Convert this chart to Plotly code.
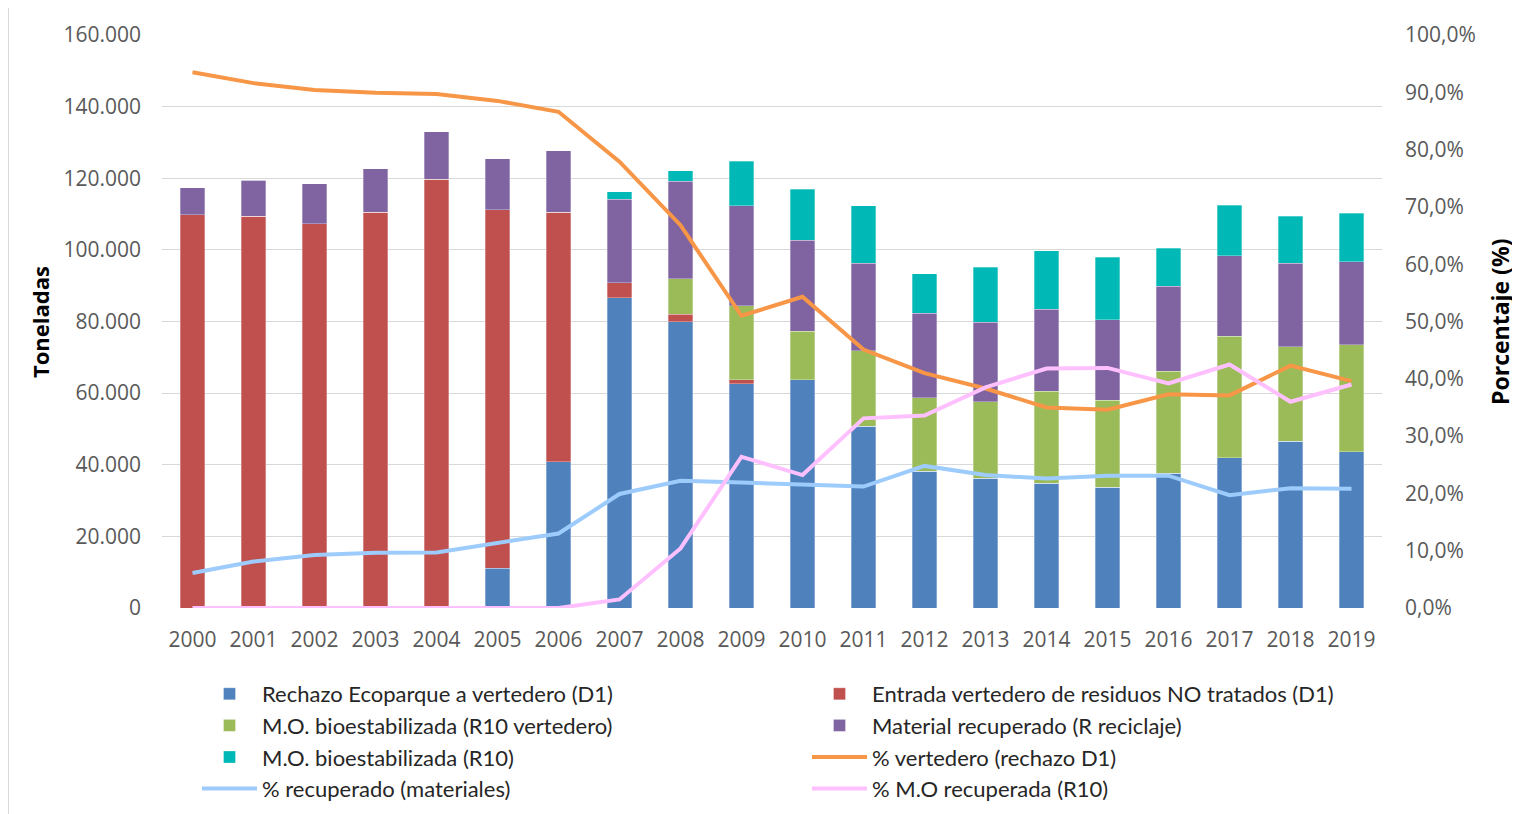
import plotly.graph_objects as go

years = [str(y) for y in range(2000, 2020)]

rechazo_ecoparque = [0, 0, 0, 0, 0, 11100, 40850, 86600, 80000, 62600, 63700, 50800, 38250, 36200, 34800, 33700, 37600, 41900, 46550, 43650]
entrada_no_tratados = [109800, 109400, 107300, 110500, 119700, 100100, 69600, 4200, 2000, 1100, 0, 0, 0, 0, 0, 0, 0, 0, 0, 0]
mo_r10_vertedero = [0, 0, 0, 0, 0, 0, 0, 0, 10000, 20700, 13600, 21000, 20500, 21400, 25700, 24300, 28550, 33950, 26400, 29800]
material_recuperado = [7500, 10100, 11100, 12200, 13300, 14250, 17200, 23300, 27200, 27900, 25400, 24400, 23550, 22150, 22900, 22500, 23650, 22500, 23300, 23200]
mo_r10 = [0, 0, 0, 0, 0, 0, 0, 2100, 2900, 12500, 14200, 16100, 11050, 15350, 16400, 17500, 10700, 14050, 13200, 13600]

pct_vertedero = [93.5, 91.6, 90.4, 89.9, 89.7, 88.5, 86.6, 77.9, 66.8, 51.0, 54.3, 45.1, 41.0, 38.3, 35.0, 34.6, 37.3, 37.1, 42.3, 39.6]
pct_recuperado = [6.1, 8.1, 9.25, 9.65, 9.7, 11.3, 13.0, 19.9, 22.2, 21.9, 21.6, 21.2, 24.8, 23.2, 22.6, 23.1, 23.1, 19.7, 20.9, 20.8]
pct_mo_recuperada = [0, 0, 0, 0, 0, 0, 0, 1.5, 10.4, 26.4, 23.2, 33.1, 33.6, 38.5, 41.8, 41.9, 39.2, 42.5, 36.0, 39.0]

bar_series = [
    ("Rechazo Ecoparque a vertedero (D1)", rechazo_ecoparque, "#4F81BD"),
    ("Entrada vertedero de residuos NO tratados (D1)", entrada_no_tratados, "#C0504D"),
    ("M.O. bioestabilizada (R10 vertedero)", mo_r10_vertedero, "#9BBB59"),
    ("Material recuperado (R reciclaje)", material_recuperado, "#8064A2"),
    ("M.O. bioestabilizada (R10)", mo_r10, "#00B8B5"),
]
line_series = [
    ("% vertedero (rechazo D1)", pct_vertedero, "#F79646"),
    ("% recuperado (materiales)", pct_recuperado, "#9DCCFC"),
    ("% M.O recuperada (R10)", pct_mo_recuperada, "#FFC0FF"),
]

fig = go.Figure()
for name, vals, col in bar_series:
    fig.add_trace(go.Bar(x=years, y=vals, name=name, marker_color=col,
                         marker_line=dict(color="rgba(255,255,255,0.6)", width=0.5)))
for name, vals, col in line_series:
    fig.add_trace(go.Scatter(x=years, y=[v / 100 for v in vals], name=name, yaxis="y2",
                             mode="lines", line=dict(color=col, width=4)))

OFF = 8  # page body margin
W, H = 1520, 814
# plot area in page pixels: x 162..1382, y 35..608
L, R, T, B = 162 - OFF, W - (1382 - OFF), 35 - OFF, H - (608 - OFF)
pw, ph = W - L - R, H - T - B

def px(x):
    return (x - OFF - L) / pw

def py(y):
    return (H - B - (y - OFF)) / ph

tickfont = dict(family="Open Sans", size=21, color="#595959")

fig.update_layout(
    width=W, height=H,
    margin=dict(l=L, r=R, t=T, b=B, autoexpand=False),
    barmode="stack", bargap=0.6,
    separators=",.",
    plot_bgcolor="white", paper_bgcolor="white",
    font=dict(family="Lato", color="#404040"),
    xaxis=dict(type="category", range=[-0.5, 19.5], showgrid=False, showline=False,
               tickfont=tickfont, ticks="", ticklabelstandoff=17),
    yaxis=dict(range=[0, 160000], dtick=20000, tickformat=",d", showgrid=True,
               gridcolor="#D9D9D9", gridwidth=1, zeroline=False, showline=False,
               tickfont=tickfont, ticks="", ticklabelstandoff=20),
    yaxis2=dict(range=[0, 1], dtick=0.1, tickformat=".1%", overlaying="y", side="right",
                showgrid=False, zeroline=False, showline=False,
                tickfont=tickfont, ticks="", ticklabelstandoff=22),
    legend=dict(orientation="h", x=px(197), y=py(673), xanchor="left", yanchor="top",
                entrywidth=540, entrywidthmode="pixels", itemwidth=55,
                font=dict(family="Lato", size=22, color="#262626"),
                traceorder="normal", bgcolor="rgba(0,0,0,0)"),
    showlegend=True,
)

fig.add_annotation(text="<b>Toneladas</b>", x=px(40), y=py(322), xref="paper", yref="paper",
                   xanchor="center", yanchor="middle", textangle=-90, showarrow=False,
                   font=dict(family="Open Sans", size=22, color="#000000"))
fig.add_annotation(text="<b>Porcentaje (%)</b>", x=px(1500), y=py(322), xref="paper", yref="paper",
                   xanchor="center", yanchor="middle", textangle=-90, showarrow=False,
                   font=dict(family="Open Sans", size=23, color="#000000"))

fig.add_shape(type="rect", xref="paper", yref="paper",
              x0=px(8), x1=px(1540), y0=py(830), y1=py(6),
              line=dict(color="#D9D9D9", width=2), fillcolor="rgba(0,0,0,0)", layer="below")

fig.write_html("out.html")
